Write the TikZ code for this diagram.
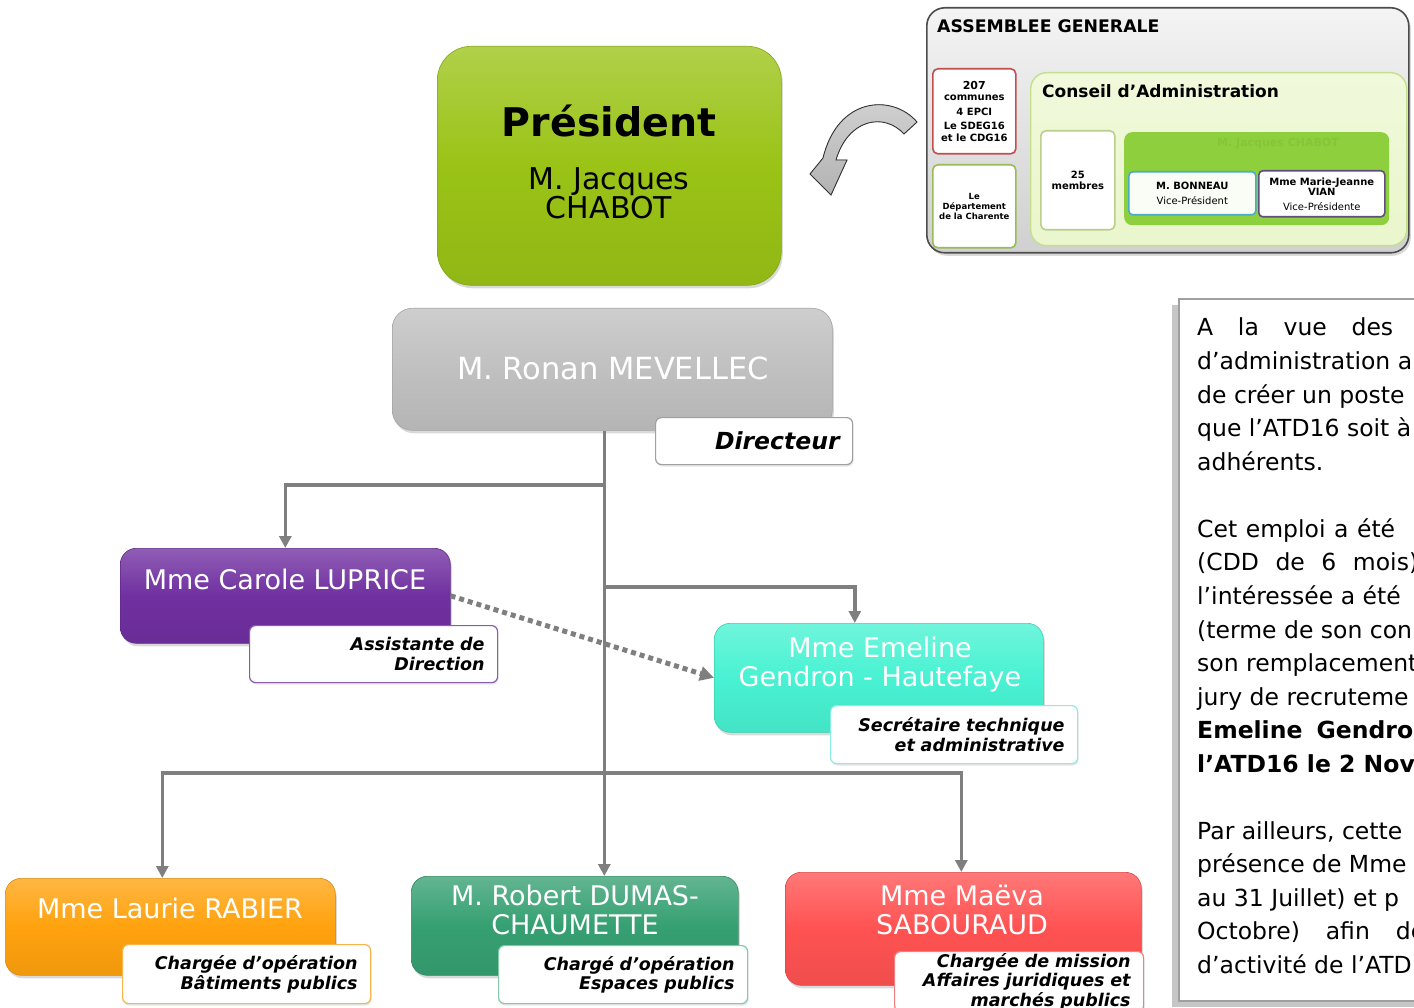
\documentclass[tikz,border=0pt]{standalone}
\usepackage{fontspec}
\setmainfont{DejaVu Sans}
\usetikzlibrary{shadows,arrows.meta,calc}
\definecolor{cPres}{HTML}{9AC316}
\definecolor{cGray}{HTML}{C0C0C0}
\definecolor{cPurple}{HTML}{7030A0}
\definecolor{cTurq}{HTML}{48F2D2}
\definecolor{cOrange}{HTML}{FFA20E}
\definecolor{cGreen}{HTML}{36A072}
\definecolor{cRed}{HTML}{FF5252}
\definecolor{cConn}{HTML}{7F7F7F}
\definecolor{cAGtop}{HTML}{F4F4F4}
\definecolor{cAGbot}{HTML}{D0D0D0}
\definecolor{cCA}{HTML}{EAF6CC}
\definecolor{cCAborder}{HTML}{C4E08C}
\definecolor{cInner}{HTML}{8ECF3E}
\definecolor{cInnerTxt}{HTML}{86C539}
\definecolor{cRedBorder}{HTML}{C0504D}
\definecolor{cGreenBorder}{HTML}{9BBB59}
\definecolor{cBlueBorder}{HTML}{4BACC6}
\definecolor{cViolBorder}{HTML}{5F4F7A}
\definecolor{lPurple}{HTML}{8A5CB0}
\definecolor{lTurq}{HTML}{8AEDE2}
\definecolor{lOrange}{HTML}{F7B54A}
\definecolor{lGreen}{HTML}{86C9A8}
\definecolor{lRed}{HTML}{F08080}
\definecolor{lGray}{HTML}{A0A0A0}
\begin{document}
\begin{tikzpicture}[x=1pt,y=-1pt,
  every node/.style={inner sep=0pt},
  pbox/.style={draw=#1!85!black, line width=0.6pt, rounded corners=16pt,
    top color=#1!78!white, bottom color=#1!94!black, middle color=#1,
    anchor=north west, drop shadow={shadow xshift=1.5pt, shadow yshift=-3pt, opacity=0.3}},
  lbox/.style={draw=#1, line width=1.2pt, rounded corners=6pt, fill=white,
    anchor=north west, align=right, inner xsep=13pt,
    font=\fontsize{17.5}{19.5}\selectfont\bfseries\itshape,
    drop shadow={shadow xshift=1pt, shadow yshift=-2pt, opacity=0.2}},
  pname/.style={text=white, align=center, anchor=base, font=\fontsize{27}{29}\selectfont},
  conn/.style={draw=cConn, line width=3.5pt, -{Triangle[length=12pt,width=12pt]}},
  ptext/.style={anchor=base west, font=\fontsize{23.5}{33}\selectfont},
  smallbox/.style={draw=#1, line width=1.6pt, rounded corners=5pt, fill=white,
    anchor=north west, align=center, font=\fontsize{10}{11.5}\selectfont\bfseries},
]
\useasboundingbox (0,0) rectangle (1414,1008);

% ---------- Assemblee generale ----------
\node[draw=black!70, line width=1.6pt, rounded corners=18pt, top color=cAGtop, bottom color=cAGbot,
  anchor=north west, minimum width=482, minimum height=245,
  drop shadow={shadow xshift=2pt, shadow yshift=-3pt, opacity=0.3}] (ag) at (926,7) {};
\node[anchor=base west, font=\fontsize{17.3}{19}\selectfont\bfseries] (agT) at (937,33) {ASSEMBLEE GENERALE};
\node[smallbox=cRedBorder, minimum width=83, minimum height=85] (communes) at (932,68)
  {{\fontsize{11}{12}\selectfont 207}\\communes\\[3pt]4 EPCI\\[3pt]Le SDEG16\\et le CDG16};
\node[smallbox=cGreenBorder, minimum width=83, minimum height=83,
  font=\fontsize{8.5}{10}\selectfont\bfseries] (dept) at (932,164)
  {Le\\Département\\de la Charente};
\node[draw=cCAborder, line width=1.4pt, rounded corners=16pt, top color=cCA!70!white, bottom color=cCA,
  anchor=north west, minimum width=376, minimum height=173] (ca) at (1030,72) {};
\node[anchor=base west, font=\fontsize{17}{19}\selectfont\bfseries] (caT) at (1042,98) {Conseil d’Administration};
\node[smallbox=cGreenBorder!70!white, minimum width=74, minimum height=99] (membres) at (1040,130)
  {25\\membres};
\node[fill=cInner, rounded corners=8pt, anchor=north west, minimum width=265, minimum height=93] (bureau) at (1124,132) {};
\node[anchor=center, text=cInnerTxt, font=\fontsize{11}{12}\selectfont\bfseries] (bureauT) at (1278,144) {M. Jacques CHABOT};
\node[draw=cBlueBorder, line width=1.6pt, rounded corners=4pt, fill=white!95!cInner, anchor=north west,
  align=center, minimum width=127, minimum height=43, font=\fontsize{10}{15}\selectfont] (bonneau) at (1128,171)
  {\textbf{M. BONNEAU}\\Vice-Président};
\node[draw=cViolBorder, line width=1.6pt, rounded corners=4pt, fill=white, anchor=north west,
  align=center, minimum width=126, minimum height=46, font=\fontsize{10}{10.5}\selectfont] (vian) at (1258,170)
  {\textbf{Mme Marie-Jeanne}\\\textbf{VIAN}\\[4pt]Vice-Présidente};

% ---------- curved arrow ----------
\filldraw[draw=black!80, line width=0.9pt, top color=gray!35, bottom color=gray!60] (917,122)
  .. controls (893,94) and (838,96) .. (823,158)
  -- (810,174) -- (831,195) -- (847,160) -- (836,160)
  .. controls (848,119) and (884,112) .. (904,134) -- cycle;

% ---------- President ----------
\node[pbox=cPres, minimum width=344, minimum height=239, rounded corners=34pt] (pres) at (437,46) {};
\node[anchor=base, font=\fontsize{39.5}{44}\selectfont\bfseries] (presT) at (609,137) {Président};
\node[anchor=base, font=\fontsize{30}{30}\selectfont] (presN1) at (609,190) {M. Jacques};
\node[anchor=base, font=\fontsize{30}{30}\selectfont] (presN2) at (609,219) {CHABOT};

% ---------- text panel ----------
\node[draw=gray!75, line width=1.6pt, fill=white, anchor=north west, minimum width=260, minimum height=702,
  drop shadow={shadow xshift=-7pt, shadow yshift=-6pt, opacity=0.45}] (panel) at (1178,298) {};
\node[ptext] (p1) at (1197,336) {\makebox[196pt][s]{A\hfill la\hfill vue\hfill des}};
\node[ptext] (p2) at (1197,369.6) {d’administration a};
\node[ptext] (p3) at (1197,403.1) {de créer un poste};
\node[ptext] (p4) at (1197,436.7) {que l’ATD16 soit à};
\node[ptext] (p5) at (1197,470.2) {adhérents.};
\node[ptext] (p6) at (1197,537.3) {\makebox[198pt][s]{Cet\hfill emploi\hfill a\hfill été}};
\node[ptext] (p7) at (1197,570.9) {\makebox[221pt][s]{(CDD\hfill de\hfill 6\hfill mois)}};
\node[ptext] (p8) at (1197,604.4) {l{\char"0027}intéressée a été};
\node[ptext] (p9) at (1197,638) {(terme de son con};
\node[ptext] (p10) at (1197,671.5) {son remplacement};
\node[ptext] (p11) at (1197,705.1) {jury de recruteme};
\node[ptext, font=\fontsize{23.5}{33}\selectfont\bfseries] (p12) at (1197,738.6) {\makebox[216pt][s]{Emeline\hfill Gendro}};
\node[ptext, font=\fontsize{23.5}{33}\selectfont\bfseries] (p13) at (1197,772.2) {l’ATD16 le 2 Nov};
\node[ptext] (p14) at (1197,839.3) {Par ailleurs, cette};
\node[ptext] (p15) at (1197,872.8) {présence de Mme};
\node[ptext] (p16) at (1197,906.4) {au 31 Juillet) et p};
\node[ptext] (p17) at (1197,939.9) {\makebox[228pt][s]{Octobre)\hfill afin\hfill de}};
\node[ptext] (p18) at (1197,973.5) {d’activité de l’ATD};

% ---------- Directeur ----------
\node[pbox=cGray, minimum width=440, minimum height=122, rounded corners=20pt] (ronan) at (392,308) {};
\node[pname, font=\fontsize{30.5}{32}\selectfont] (ronanN) at (613,379) {M. Ronan MEVELLEC};
\node[lbox=lGray, minimum width=197, minimum height=47, text width=171,
  font=\fontsize{23.5}{26}\selectfont\bfseries\itshape] (ronanL) at (655,417) {Directeur};

% ---------- Carole ----------
\node[pbox=cPurple, minimum width=330, minimum height=95] (carole) at (120,548) {};
\node[pname] (caroleN) at (285,589) {Mme Carole LUPRICE};
\node[lbox=lPurple, minimum width=248, minimum height=57, text width=222] (caroleL) at (249,625)
  {Assistante de\\Direction};

% ---------- Emeline ----------
\node[pbox=cTurq, minimum width=329, minimum height=109] (emeline) at (714,623) {};
\node[pname] (emelineN) at (880,686) {Mme Emeline\\Gendron - Hautefaye};
\node[lbox=lTurq, minimum width=247, minimum height=58, text width=221] (emelineL) at (830,705)
  {Secrétaire technique\\et administrative};

% ---------- Laurie ----------
\node[pbox=cOrange, minimum width=330, minimum height=97] (laurie) at (5,878) {};
\node[pname] (laurieN) at (170,918) {Mme Laurie RABIER};
\node[lbox=lOrange, minimum width=248, minimum height=59, text width=222] (laurieL) at (122,944)
  {Chargée d’opération\\Bâtiments publics};

% ---------- Robert ----------
\node[pbox=cGreen, minimum width=327, minimum height=99] (robert) at (411,876) {};
\node[pname] (robertN) at (575,934) {M. Robert DUMAS-\\CHAUMETTE};
\node[lbox=lGreen, minimum width=249, minimum height=58, text width=223] (robertL) at (498,945)
  {Chargé d’opération\\Espaces publics};

% ---------- Maeva ----------
\node[pbox=cRed, minimum width=356, minimum height=113] (maeva) at (785,872) {};
\node[pname] (maevaN) at (962,934) {Mme Maëva\\SABOURAUD};
\node[lbox=lRed, minimum width=249, minimum height=60, text width=223] (maevaL) at (894,951)
  {Chargée de mission\\Affaires juridiques et\\marchés publics};

% ---------- connectors ----------
\coordinate (trunk) at ($(ronan.south)+(-8,0)$);
\draw[conn] (trunk) -- (trunk |- robert.north);
\draw[conn] (trunk |- 0,485) -| (carole.north);
\draw[conn] (trunk |- 0,587) -| ([xshift=-24pt]emeline.north);
\draw[conn] (trunk |- 0,773) -| ([xshift=-8pt]laurie.north);
\draw[conn] (trunk |- 0,773) -| ([xshift=-2pt]maeva.north);
\draw[draw=cConn, line width=5pt, dash pattern=on 5pt off 4pt, -{Triangle[length=14pt,width=14pt]}]
  (carole.east) -- (emeline.west);
\end{tikzpicture}
\end{document}
